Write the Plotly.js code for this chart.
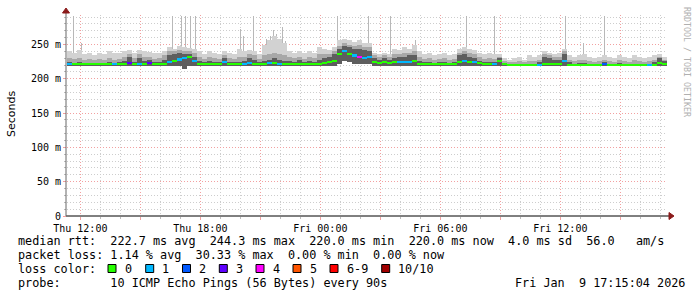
<!DOCTYPE html>
<html><head><meta charset="utf-8">
<script src="https://cdn.plot.ly/plotly-3.0.1.min.js"></script>
<style>html,body{margin:0;padding:0;background:#fff}#c{width:697px;height:297px}</style>
</head><body><div id="c"></div>
<script>
// ---- data (milliseconds), one column per 15 minutes starting Thu 11:27:30 ----
const startTime = Date.UTC(2026,0,8,11,27,30);
const stepMs = 15*60*1000;
const medianMs = [222,222,222,222,222,222,222,222,222,222,222,222,223,222,222,222,223,222,222,222,
  224,226,228,230,232,226,222,222,222,222,222,224,222,222,222,222,223,222,222,222,
  223,223,222,222,222,222,222,222,222,222,222,223,224,226,236,240,236,234,232,230,
  232,224,223,224,223,224,224,225,225,226,222,222,222,222,222,222,222,222,224,226,
  224,224,223,222,222,222,226,221,220,220,220,220,220,220,220,222,221,221,221,226,
  220,220,220,220,220,220,220,221,220,220,220,220,220,220,220,220,220,220,223,222];
const lossIdx = [1,0,0,0,0,0,0,0,0,1,0,0,3,0,1,0,3,0,0,0,
  1,0,1,1,0,1,0,0,0,0,0,1,0,0,0,1,1,0,0,0,
  1,0,1,0,0,0,0,0,0,0,0,0,0,0,0,1,0,1,4,1,
  1,0,0,0,0,0,1,1,1,0,0,0,0,0,0,0,0,0,0,1,
  0,1,0,0,0,1,0,0,0,0,0,0,0,0,1,0,0,0,0,1,
  0,0,0,0,0,0,0,2,0,0,0,0,0,0,0,0,1,0,0,0];
const smokeLo = [219,219,219,219,219,219,219,219,219,219,219,219,219,219,219,219,219,219,219,219,
  219,219,219,214,219,219,219,219,219,219,219,219,219,219,219,219,219,219,219,219,
  219,219,219,219,219,219,219,219,219,219,219,219,219,219,222,226,224,222,222,221,
  221,219,219,219,219,219,219,219,219,219,219,219,219,219,219,219,219,219,219,219,
  219,219,219,219,219,219,219,218,218,218,218,218,218,218,218,218,218,218,218,218,
  218,218,218,218,218,218,218,218,218,218,218,218,218,218,218,218,218,218,218,218];
const smokeHi = [240,238,242,236,238,235,238,236,240,237,238,240,242,238,242,240,239,237,238,240,
  246,244,248,246,245,244,240,236,240,238,236,240,238,236,244,240,242,240,236,250,
  256,262,258,252,240,238,240,237,240,238,246,244,242,246,256,258,256,254,256,252,
  252,238,236,238,236,244,242,246,244,250,240,236,238,234,236,238,234,236,244,246,
  244,242,238,236,238,236,236,230,228,230,232,228,234,232,234,240,238,236,238,244,
  234,232,234,236,232,230,232,234,232,230,234,232,230,234,232,230,232,234,236,232];
const smokeMid = [230,229,231,228,229,227,229,228,230,228,229,232,236,230,236,232,232,229,230,234,
  240,240,242,240,240,238,232,229,232,230,229,234,230,229,232,232,236,234,229,234,
  236,238,236,234,232,230,232,229,232,230,236,236,236,240,248,252,250,248,250,246,
  246,234,232,234,232,236,236,238,238,240,232,229,230,228,229,230,228,229,238,240,
  238,236,232,229,230,229,232,226,224,225,226,224,226,226,228,236,234,232,232,240,
  228,226,227,228,226,225,226,228,226,225,227,226,225,227,226,225,226,228,232,228];
const smokeDark = [224,223,224,223,223,223,223,223,224,223,224,226,232,224,230,226,228,224,225,228,
  234,236,238,236,236,232,226,224,226,224,224,230,225,224,225,226,230,228,224,226,
  228,230,228,226,226,225,227,224,226,225,228,230,232,236,244,248,246,244,244,242,
  240,230,228,230,228,230,232,232,234,234,226,224,225,223,224,225,223,224,234,236,
  232,230,226,224,225,224,230,223,221,222,222,221,222,222,224,232,230,228,228,236,
  224,222,223,223,222,222,222,224,222,222,223,222,222,222,222,222,222,224,230,226];
// thin single-pixel spikes (max ping)
const spikeTimes = ['2026-01-08 11:38','2026-01-08 12:02','2026-01-08 16:35','2026-01-08 17:02','2026-01-08 17:14','2026-01-08 17:29',
  '2026-01-08 17:44','2026-01-08 19:59','2026-01-08 20:08','2026-01-08 20:38','2026-01-08 21:17','2026-01-08 21:29',
  '2026-01-08 21:38','2026-01-08 21:47','2026-01-08 22:05','2026-01-08 22:14','2026-01-09 00:50','2026-01-09 00:59',
  '2026-01-09 02:23','2026-01-09 03:29','2026-01-09 04:44','2026-01-09 07:17','2026-01-09 08:41','2026-01-09 12:14',
  '2026-01-09 13:08','2026-01-09 14:11'];
const spikeTops = [292,252,292,292,292,292,292,273,262,292,258,262,271,265,275,255,292,256,292,292,256,292,292,292,252,292];
const lossLabels = ['0','1','2','3','4','5','6-9','10/10'];
const lossColors = ['#26ff00','#00b8ff','#0059ff','#5e00ff','#ff00ff','#ff5500','#ff0000','#a10000'];
const xTickVals = ['2026-01-08 12:00','2026-01-08 15:00','2026-01-08 18:00','2026-01-08 21:00','2026-01-09 00:00',
  '2026-01-09 03:00','2026-01-09 06:00','2026-01-09 09:00','2026-01-09 12:00','2026-01-09 15:00'];
const xTickText = ['Thu 12:00','','Thu 18:00','','Fri 00:00','','Fri 06:00','','Fri 12:00',''];
const yTickVals = [0,0.05,0.10,0.15,0.20,0.25];
const yTickText = ['0','50 m','100 m','150 m','200 m','250 m'];
const legendLines = [
  'median rtt:  222.7 ms avg  244.3 ms max  220.0 ms min  220.0 ms now  4.0 ms sd  56.0   am/s',
  'packet loss: 1.14 % avg  30.33 % max  0.00 % min  0.00 % now',
  'loss color:',
  'probe:       10 ICMP Echo Pings (56 Bytes) every 90s'];
const dateStamp = 'Fri Jan  9 17:15:04 2026';

// ---- geometry helpers (pixel -> paper) ----
const PL=67, PR=667, PT=15, PB=216;
const px = v => (v-PL)/(PR-PL);
const py = v => (PB-v)/(PB-PT);
const nb = t => t.replace(/ /g,'\u00a0');
const s = v => v/1000;

const times = medianMs.map((_,i)=>startTime+i*stepMs);
const W = stepMs;
function band(hi, lo, color){
  return {type:'bar', x:times, base:lo.map(s), y:hi.map((h,i)=>s(h-lo[i])), width:W,
    marker:{color:color, line:{width:0}}, hoverinfo:'skip'};
}
const traces = [
  {type:'bar', x:spikeTimes, base:spikeTimes.map(()=>s(222)), y:spikeTops.map(t=>s(t-222)), width:180000,
    marker:{color:'#b8b8b8', line:{width:0}}, hoverinfo:'skip'},
  band(smokeHi, smokeLo, '#d2d2d2'),
  band(smokeMid, smokeLo, '#a8a8a8'),
  band(smokeDark, smokeLo, '#5e5e5e'),
  {type:'bar', x:times, base:medianMs.map(m=>s(m-1.6)), y:medianMs.map(()=>s(3.2)), width:W,
    marker:{color:lossIdx.map(k=>lossColors[k]), line:{width:0}}, hoverinfo:'skip'}
];

const mono = 'DejaVu Sans Mono';
const annotations = [];
const lineY = [241,255,269,283];
legendLines.forEach((t,i)=>annotations.push({xref:'paper',yref:'paper',x:px(16),y:py(lineY[i]),xanchor:'left',yanchor:'middle',
  text:nb(t),showarrow:false,font:{family:mono,size:11.8,color:'#000'}}));
annotations.push({xref:'paper',yref:'paper',x:px(513),y:py(283),xanchor:'left',yanchor:'middle',text:nb(dateStamp),showarrow:false,
  font:{family:mono,size:11.8,color:'#000'}});
const boxX = [108,145.7,182.5,219.3,256,293,330,381.7];
const shapes = [];
lossLabels.forEach((l,i)=>{
  shapes.push({type:'rect',xref:'paper',yref:'paper',x0:px(boxX[i]),x1:px(boxX[i]+8),y0:py(264.5),y1:py(272.5),
    fillcolor:lossColors[i],line:{color:'#000',width:1}});
  annotations.push({xref:'paper',yref:'paper',x:px(boxX[i]+14.5),y:py(lineY[2]),xanchor:'left',yanchor:'middle',text:l,showarrow:false,
    font:{family:mono,size:11.8,color:'#000'}});
});
annotations.push({xref:'paper',yref:'paper',x:px(11),y:py(114),xanchor:'center',yanchor:'middle',text:'Seconds',textangle:-90,
  showarrow:false,font:{family:'DejaVu Sans',size:11,color:'#000'}});
annotations.push({xref:'paper',yref:'paper',x:px(687),y:py(5),xanchor:'center',yanchor:'top',text:nb('RRDTOOL / TOBI OETIKER'),textangle:90,
  showarrow:false,font:{family:mono,size:8.3,color:'#b0b0b0'}});
// axis lines and arrows
shapes.push({type:'path',xref:'paper',yref:'paper',path:`M ${px(66)} ${py(216)} L ${px(670)} ${py(216)}`,line:{color:'#000',width:1}});
shapes.push({type:'path',xref:'paper',yref:'paper',path:`M ${px(669)} ${py(212.5)} L ${px(674)} ${py(216)} L ${px(669)} ${py(219.5)} Z`,fillcolor:'#8b1a1a',line:{color:'#8b1a1a',width:1}});
shapes.push({type:'path',xref:'paper',yref:'paper',path:`M ${px(66)} ${py(216)} L ${px(66)} ${py(12)}`,line:{color:'#666',width:1}});
shapes.push({type:'path',xref:'paper',yref:'paper',path:`M ${px(62.5)} ${py(13)} L ${px(66)} ${py(8)} L ${px(69.5)} ${py(13)} Z`,fillcolor:'#8b1a1a',line:{color:'#8b1a1a',width:1}});

const major = '#f2a0a0', minorC = '#cdcdcd', dash = '1px,2px';
const layout = {
  width:697,height:297,margin:{l:PL,r:697-PR,t:PT,b:297-PB,pad:0},
  paper_bgcolor:'#fff',plot_bgcolor:'#fff',showlegend:false,barmode:'overlay',bargap:0,
  xaxis:{type:'date',range:['2026-01-08 11:20','2026-01-09 17:20'],tickvals:xTickVals,ticktext:xTickText,
    showgrid:true,gridcolor:major,griddash:dash,gridwidth:1,zeroline:false,showline:false,layer:'below traces',
    ticks:'outside',ticklen:3,tickcolor:major,tickfont:{family:mono,size:10,color:'#000'},
    minor:{dtick:3600000,showgrid:true,gridcolor:minorC,griddash:dash,gridwidth:1,ticks:'outside',ticklen:2,tickcolor:'#bbb'},
    fixedrange:true},
  yaxis:{range:[0,0.293],tickvals:yTickVals,ticktext:yTickText,showgrid:true,gridcolor:major,griddash:dash,gridwidth:1,
    zeroline:false,showline:false,ticks:'outside',ticklen:3,tickcolor:major,tickfont:{family:mono,size:10,color:'#000'},
    minor:{dtick:0.01,showgrid:true,gridcolor:minorC,griddash:dash,gridwidth:1,ticks:'outside',ticklen:2,tickcolor:'#bbb'},
    fixedrange:true},
  annotations:annotations,shapes:shapes
};
Plotly.newPlot('c',traces,layout,{displayModeBar:false,staticPlot:true});
</script></body></html>
